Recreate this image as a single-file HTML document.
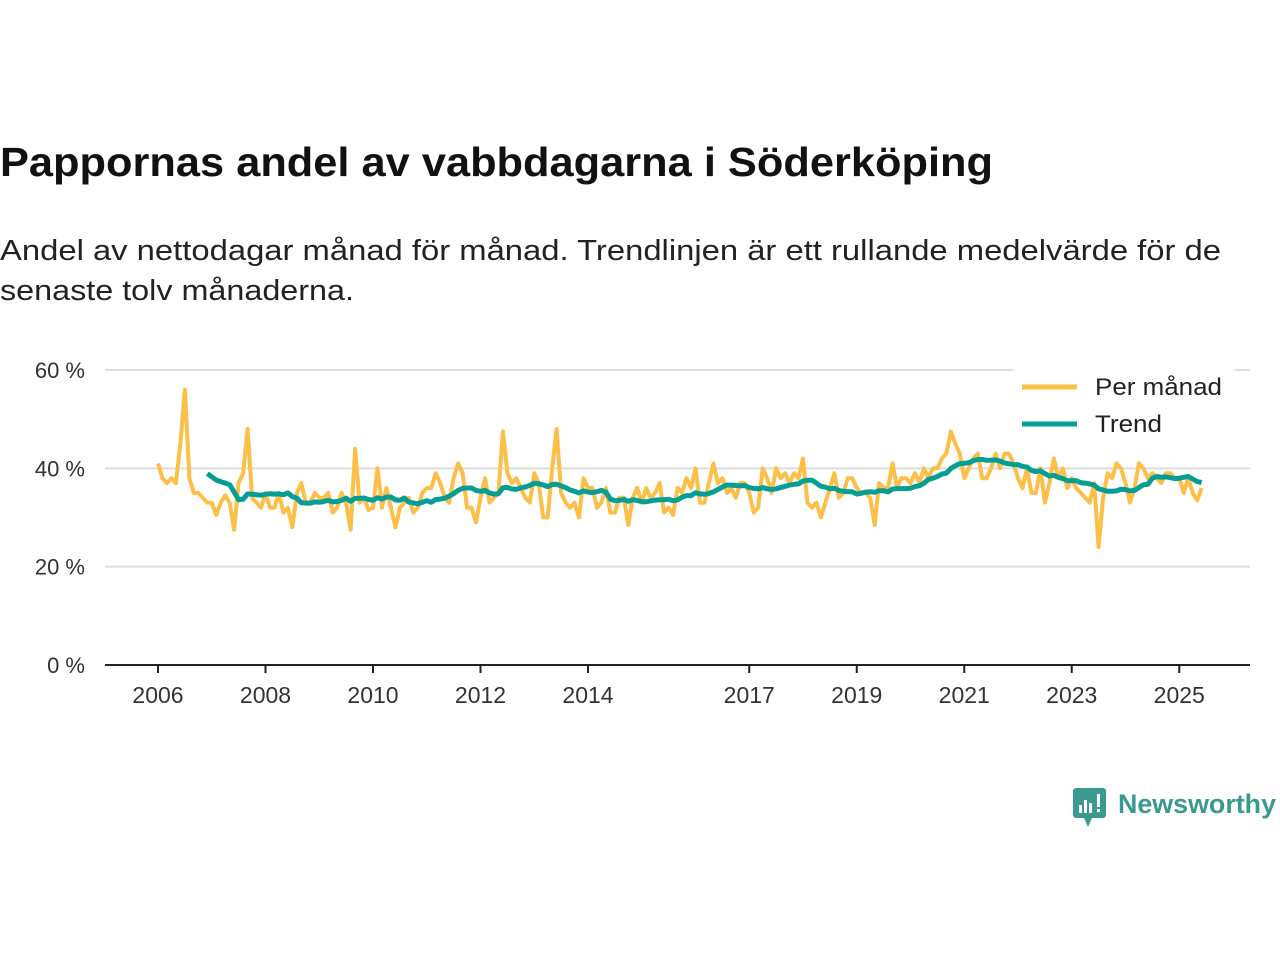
<!DOCTYPE html>
<html><head><meta charset="utf-8">
<style>
body{margin:0;width:1280px;height:960px;background:#fff;font-family:"Liberation Sans",sans-serif;overflow:hidden}
svg{position:absolute;left:0;top:0}
</style></head><body>
<svg width="1280" height="960">
<text x="0" y="176" font-size="41" font-weight="bold" fill="#111" textLength="993" lengthAdjust="spacingAndGlyphs">Pappornas andel av vabbdagarna i Söderköping</text>
<text x="0" y="260" font-size="29" fill="#222" textLength="1221" lengthAdjust="spacingAndGlyphs">Andel av nettodagar månad för månad. Trendlinjen är ett rullande medelvärde för de</text>
<text x="0" y="300" font-size="29" fill="#222" textLength="354" lengthAdjust="spacingAndGlyphs">senaste tolv månaderna.</text>
<g id="grid"></g>
<g id="xaxis"></g>
<g id="series"></g>
<g>
<rect x="1013" y="365" width="222" height="80" fill="#fff"/>
<line x1="1022" y1="387" x2="1077" y2="387" stroke="#fdbf47" stroke-width="5"/>
<text x="1095" y="395" font-size="24" fill="#222" textLength="127" lengthAdjust="spacingAndGlyphs">Per månad</text>
<line x1="1022" y1="424" x2="1077" y2="424" stroke="#069e94" stroke-width="5"/>
<text x="1095" y="432" font-size="24" fill="#222" textLength="67" lengthAdjust="spacingAndGlyphs">Trend</text>
</g>
<g>
<rect x="1073" y="788" width="33" height="30" rx="3" fill="#3a9a8f"/>
<polygon points="1084,818 1092,818 1088,827" fill="#3a9a8f"/>
<rect x="1079" y="805" width="3" height="8" fill="#fff"/><rect x="1084" y="800" width="3" height="13" fill="#fff"/><rect x="1089" y="803" width="3" height="10" fill="#fff"/><rect x="1097" y="794" width="3" height="13" fill="#fff"/><rect x="1097" y="809" width="3" height="3" fill="#fff"/>
<text x="1118" y="813" font-size="27" font-weight="bold" fill="#3a9a8f" textLength="158" lengthAdjust="spacingAndGlyphs">Newsworthy</text>
</g>
</svg>
<script>
const yTicks=[0,20,40,60];
const yTickLabels=["0 %","20 %","40 %","60 %"];
const xTicks=[2006,2008,2010,2012,2014,2017,2019,2021,2023,2025];
const startYear=2006;
const monthly=[
41,38,37,38,37,45,56,38,35,35,34,33,
33,30.5,33,34.5,33,27.5,37,39,48,34,33,32,
35,32,32,35,31,32,28,35,37,33,33,35,
34,34,35,31,32,35,33,27.5,44,33,34,31.5,
32,40,32,36,32,28,32,33,34,31,32,35,
36,36,39,37,34,33,38,41,39,32,32,29,
34,38,33,34,35,47.5,39,37,38,36,34,33,
39,37,30,30,40,48,35,33,32,33,30,38,
36,36,32,33,36,31,31,34,34,28.5,34,36,
33,36,34,35,37,31,32,30.5,36,35,38,36,
40,33,33,37,41,37,38,35,36,34,37,37,
35,31,32,40,38,35,40,38,39,37,39,38,
42,33,32,33,30,33,36,39,34,35,38,38,
36,35,35,34,28.5,37,36,36,41,36,38,38,
37,39,37,40,38,40,40,42,43,47.5,45,43,
38,40,42,43,38,38,40,43,40,43,43,41,
38,36,40,35,35,40,33,37,42,38,40,36,
38,36,35,34,33,37,24,34,39,38,41,40,
37,33,36,41,40,38,39,38,37,39,39,38,
38,35,38,35,33.5,36];
const NS="http://www.w3.org/2000/svg";
function xs(t){return 158+(t-2006)*53.75;}
function ys(v){return 665-v*4.917;}
const grid=document.getElementById('grid');
yTicks.forEach((v,i)=>{
 const l=document.createElementNS(NS,'line');
 l.setAttribute('x1',105);l.setAttribute('x2',1250);
 l.setAttribute('y1',ys(v));l.setAttribute('y2',ys(v));
 l.setAttribute('stroke',v===0?'#222':'#ddd');l.setAttribute('stroke-width',2);
 
 
 grid.appendChild(l);
 const t=document.createElementNS(NS,'text');
 t.setAttribute('x',85);t.setAttribute('y',ys(v)+8);t.setAttribute('text-anchor','end');
 t.setAttribute('font-size','22');t.setAttribute('fill','#333');t.textContent=yTickLabels[i];
 
 
 grid.appendChild(t);
});
const xa=document.getElementById('xaxis');
xTicks.forEach(y=>{
 const l=document.createElementNS(NS,'line');
 l.setAttribute('x1',xs(y));l.setAttribute('x2',xs(y));l.setAttribute('y1',665);l.setAttribute('y2',673);
 l.setAttribute('stroke','#222');l.setAttribute('stroke-width',2);
 
 
 xa.appendChild(l);
 const t=document.createElementNS(NS,'text');
 t.setAttribute('x',xs(y));t.setAttribute('y',703);t.setAttribute('text-anchor','middle');
 t.setAttribute('font-size','23');t.setAttribute('fill','#333');t.textContent=y;
 
 
 xa.appendChild(t);
});
const s=document.getElementById('series');
function path(pts,color,w,name){
 const p=document.createElementNS(NS,'path');
 p.setAttribute('d',pts.map((q,i)=>(i?'L':'M')+q[0].toFixed(1)+','+q[1].toFixed(1)).join(''));
 p.setAttribute('fill','none');p.setAttribute('stroke',color);p.setAttribute('stroke-width',w);
 p.setAttribute('stroke-linejoin','round');
 
 
 s.appendChild(p);
}
path(monthly.map((v,i)=>[xs(startYear+i/12),ys(v)]),'#fdbf47',4,'per-manad-line');
const trend=[];
for(let i=11;i<monthly.length;i++){let sum=0;for(let k=i-11;k<=i;k++)sum+=monthly[k];trend.push([xs(startYear+i/12),ys(sum/12)]);}
path(trend,'#069e94',5,'trend-line');
</script>
</body></html>
